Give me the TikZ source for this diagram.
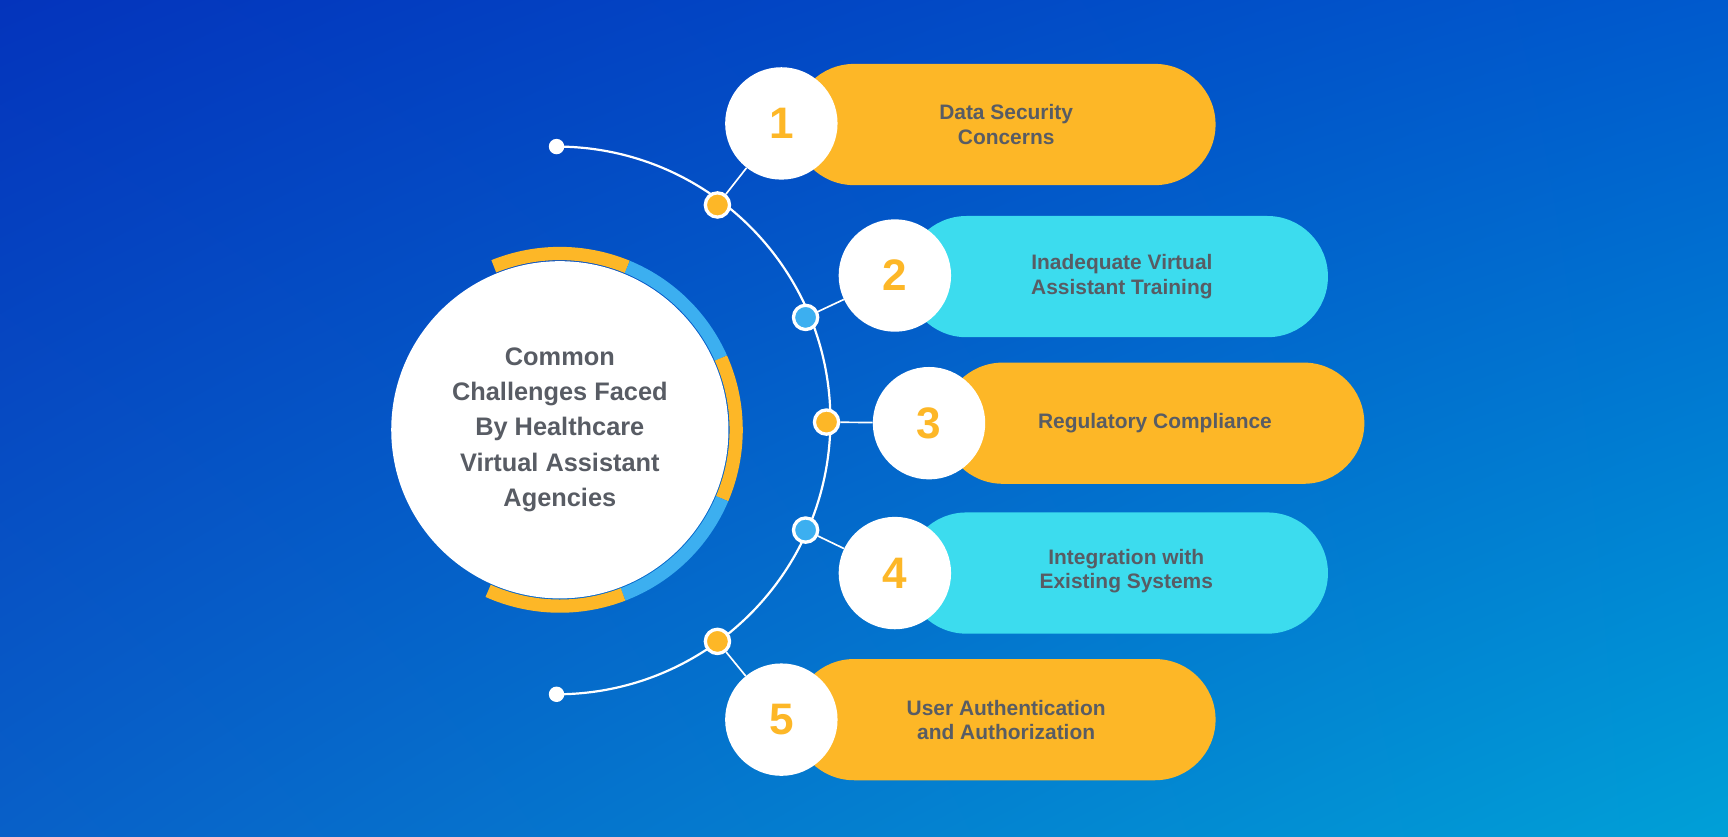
\documentclass[tikz,border=0pt]{standalone}
\usepackage{fontspec}
\setmainfont{Liberation Sans}
\usetikzlibrary{shadings}
\begin{document}
\definecolor{bgA}{RGB}{4,52,188}
\definecolor{bgB}{RGB}{0,90,205}
\definecolor{bgC}{RGB}{8,96,200}
\definecolor{bgD}{RGB}{0,160,215}
\definecolor{org}{RGB}{253,183,39}
\definecolor{cyn}{RGB}{60,220,238}
\definecolor{blu}{RGB}{60,175,240}
\definecolor{txt}{RGB}{88,92,100}
\begin{tikzpicture}[x=1pt,y=-1pt,
  pill/.style={rounded corners=55pt,minimum width=383pt,minimum height=110pt,inner sep=0pt},
  lbl/.style={text=txt,font=\bfseries\fontsize{19}{22}\selectfont,align=center},
  num/.style={circle,fill=white,minimum size=102pt,inner sep=0pt,text=org,font=\bfseries\fontsize{40}{40}\selectfont},
  dot/.style={circle,draw=white,line width=3pt,minimum size=22pt,inner sep=0pt},
  conn/.style={white,line width=1.5pt}]
\useasboundingbox (0,0) rectangle (1568,759);
\shade[upper left=bgA,upper right=bgB,lower left=bgC,lower right=bgD] (0,0) rectangle (1568,759);
% ring
\begin{scope}[line width=12pt]
\draw[org] (508,390) ++(-112:160) arc[start angle=-112,end angle=-67.5,radius=160];
\draw[blu] (508,390) ++(-67.5:160) arc[start angle=-67.5,end angle=-24,radius=160];
\draw[org] (508,390) ++(-24:160) arc[start angle=-24,end angle=23,radius=160];
\draw[blu] (508,390) ++(23:160) arc[start angle=23,end angle=69,radius=160];
\draw[org] (508,390) ++(69:160) arc[start angle=69,end angle=114,radius=160];
\end{scope}
\node[circle,fill=white,minimum size=306pt,inner sep=0pt,lbl,font=\bfseries\fontsize{23}{32}\selectfont] (c) at (508,390)
 {Common\\Challenges Faced\\By Healthcare\\Virtual Assistant\\Agencies};
% big arc
\node[circle,fill=white,minimum size=14pt,inner sep=0pt] (e1) at (505,133) {};
\node[circle,fill=white,minimum size=14pt,inner sep=0pt] (e2) at (505,630) {};
\draw[white,line width=2pt] (e1.center) arc[start angle=-90,end angle=90,radius=248.5];
% pills
\node[pill,fill=org] (p1) at (911.5,113) {};
\node[pill,fill=cyn] (p2) at (1013.5,251) {};
\node[pill,fill=org] (p3) at (1046.5,384) {};
\node[pill,fill=cyn] (p4) at (1013.5,520) {};
\node[pill,fill=org] (p5) at (911.5,653) {};
\node[lbl] at (913,113) {Data Security\\Concerns};
\node[lbl] at (1018,251) {Inadequate Virtual\\Assistant Training};
\node[lbl] at (1048,384) {Regulatory Compliance};
\node[lbl] at (1022,518) {Integration with\\Existing Systems};
\node[lbl] at (913,653) {User Authentication\\and Authorization};
% dots
\node[dot,fill=org] (d1) at (651,186) {};
\node[dot,fill=blu] (d2) at (731,288) {};
\node[dot,fill=org] (d3) at (750,383) {};
\node[dot,fill=blu] (d4) at (731,481) {};
\node[dot,fill=org] (d5) at (651,582) {};
% numbers
\node[num] (n1) at (709,112) {1};
\node[num] (n2) at (812,250) {2};
\node[num] (n3) at (843,384) {3};
\node[num] (n4) at (812,520) {4};
\node[num] (n5) at (709,653) {5};
\foreach \i in {1,...,5}{\draw[conn] (d\i) -- (n\i);}
\end{tikzpicture}
\end{document}
